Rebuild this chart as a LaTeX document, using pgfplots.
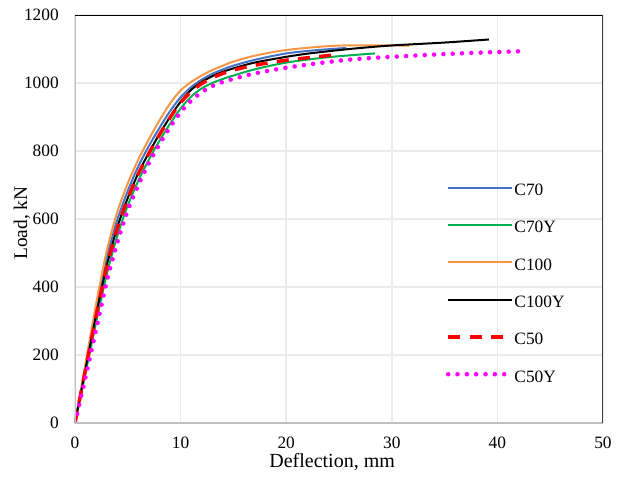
\documentclass[border=0pt]{standalone}
\usepackage{fontspec}
\setmainfont{Liberation Serif}
\usepackage{pgfplots}
\pgfplotsset{compat=1.18}
\definecolor{cblue}{RGB}{68,114,196}
\definecolor{cgreen}{RGB}{0,176,80}
\definecolor{corange}{RGB}{247,150,70}
\definecolor{cmag}{RGB}{255,0,255}
\definecolor{gridc}{RGB}{235,235,235}
\definecolor{axc}{RGB}{191,191,191}
\begin{document}
\begin{tikzpicture}
\begin{axis}[
  at={(0,0)}, anchor=south west,
  scale only axis, width=396pt, height=306pt,
  xmin=0, xmax=50, ymin=0, ymax=1200,
  xtick={0,10,...,50}, ytick={0,200,...,1200},
  major tick length=0pt,
  grid=major, major grid style={gridc, line width=1.1pt},
  axis line style={draw=none},
  tick label style={font=\fontsize{13}{15}\selectfont},
  /pgf/number format/assume math mode=true,
  /pgf/number format/1000 sep={},
  yticklabel style={anchor=east, inner sep=0pt, xshift=-12pt},
  xticklabel style={anchor=north, inner sep=0pt, yshift=-10pt},
  xlabel={Deflection, mm}, ylabel={Load, kN},
  xlabel style={font=\fontsize{15}{17}\selectfont, at={(axis description cs:0.487,-0.108)}, anchor=base, inner sep=0pt},
  ylabel style={font=\fontsize{14.5}{17}\selectfont, at={(axis description cs:-0.0909,0.49)}, anchor=base, inner sep=0pt},
  legend style={draw=none, fill=none, at={(axis cs:35.1,705)}, anchor=north west,
    font=\fontsize{13}{15}\selectfont, inner sep=0pt, row sep=19pt,
    nodes={inner sep=0pt, text height=9pt, text depth=0pt}},
  legend cell align=left,
  legend image code/.code={\draw[#1] (0pt,1.5pt) -- (48pt,1.5pt);},
  /tikz/every even column/.append style={column sep=9.5pt},
]
\addplot[cblue, line width=1.5pt, smooth] coordinates {
(0,0)(1,168)(2,335)(3,485)(4,597)(5,683)(6,755)(7,815)(8,868)(9,917)(10,958)(11,988)(12,1010)(13,1027)(14,1040)(15,1051)(17,1068)(20,1087)(23,1097)(25.7,1103)};
\addlegendentry{C70}
\addplot[cgreen, line width=1.5pt, smooth] coordinates {
(0,0)(1,148)(2,296)(3,436)(4,550)(5,640)(6,713)(7,775)(8,830)(9,880)(10,925)(11,960)(12,984)(13,1000)(14,1012)(15,1022)(17,1040)(20,1060)(24,1076)(28.4,1087)};
\addlegendentry{C70Y}
\addplot[corange, line width=1.5pt, smooth] coordinates {
(0,0)(1,175)(2,350)(3,505)(4,620)(5,705)(6,775)(7,835)(8,890)(9,940)(10,978)(11,1003)(12,1022)(13,1038)(14,1051)(15,1063)(17,1080)(20,1097)(25,1110)(31.7,1110)};
\addlegendentry{C100}
\addplot[black, line width=1.5pt, smooth] coordinates {
(0,0)(1,160)(2,318)(3,462)(4,575)(5,662)(6,735)(7,795)(8,850)(9,900)(10,945)(11,980)(12,1003)(13,1020)(14,1033)(15,1043)(17,1060)(20,1077)(22.2,1087)(26,1100)(29.8,1110)(35,1119)(39.2,1128)};
\addlegendentry{C100Y}
\addplot[red, line width=2.6pt, dash pattern=on 9pt off 7pt, smooth] coordinates {
(0,0)(1,158)(2,315)(3,458)(4,572)(5,660)(6,733)(7,793)(8,848)(9,898)(10,942)(11,975)(12,998)(13,1015)(14,1028)(15,1038)(17,1052)(20,1067)(24.4,1082)};
\addlegendentry{C50}
\addplot[cmag, line width=3.4pt, line cap=round, dash pattern=on 0pt off 7pt, smooth] coordinates {
(0,0)(1,135)(2,275)(3,415)(4,530)(5,625)(6,700)(7,765)(8,820)(9,870)(10,914)(11,948)(12,973)(13,991)(14,1003)(15,1012)(17,1028)(20,1045)(24,1062)(27.3,1072)(33.6,1083)(38,1089)(42.8,1094)};
\addlegendentry{C50Y}
\draw[axc, line width=1.1pt] (rel axis cs:0,1) -- (rel axis cs:0,0) -- (rel axis cs:1,0);
\draw[black, line width=0.8pt] (rel axis cs:0,1) -- (rel axis cs:1,1);
\draw[black!75, line width=1pt] (rel axis cs:1,1) -- (rel axis cs:1,0);
\end{axis}
\pgfresetboundingbox
\path (-56.25pt,-39.75pt) rectangle (407.25pt,317.25pt);
\end{tikzpicture}
\end{document}
